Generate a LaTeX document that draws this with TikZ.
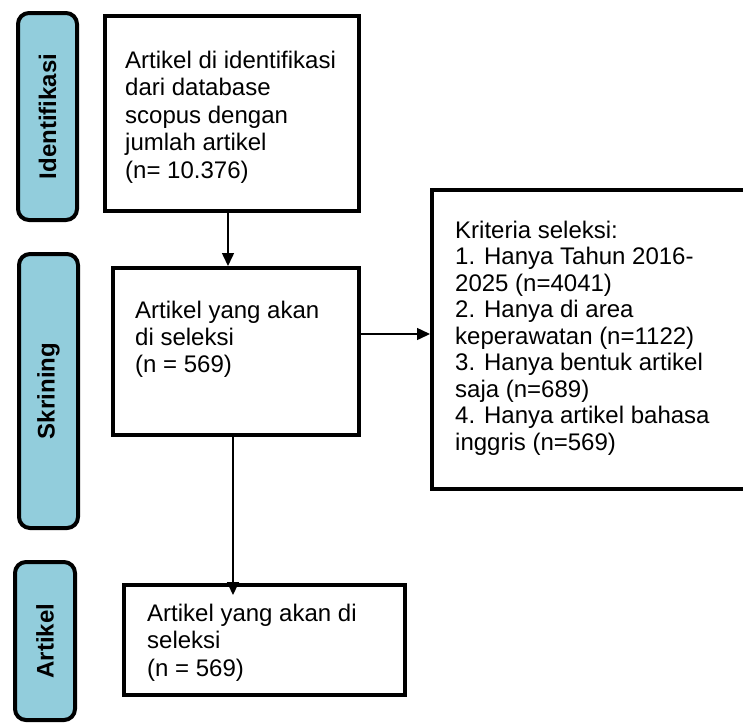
\documentclass[tikz,border=0pt]{standalone}
\usepackage{fontspec}
\setmainfont{Liberation Sans}
\usetikzlibrary{arrows.meta}
\definecolor{barblue}{HTML}{92CDDC}
\begin{document}
\begin{tikzpicture}[x=1pt,y=-1pt,
  bar/.style={draw=black, line width=4pt, fill=barblue, rounded corners=11pt, rectangle, inner sep=0pt},
  boxnode/.style={draw=black, line width=4pt, fill=white, rectangle, inner sep=0pt},
  barlabel/.style={rotate=90, font=\fontsize{24}{27}\selectfont\bfseries, inner sep=0pt},
  boxtext/.style={anchor=north west, inner sep=0pt, align=left},
  arr/.style={line width=1.5pt, -{Triangle[length=13pt,width=12pt]}}]
\useasboundingbox (0,0) rectangle (743,724);
\clip (0,0) rectangle (743,724);
% side bars
\node[bar, minimum width=59pt, minimum height=207pt] (idbar) at (47.5,116.5) {};
\node[barlabel] (idlab) at (idbar.center) {Identifikasi};
\node[bar, minimum width=59pt, minimum height=274pt] (skbar) at (48.5,391) {};
\node[barlabel] (sklab) at (skbar.center) {Skrining};
\node[bar, minimum width=60pt, minimum height=158pt] (arbar) at (45,641) {};
\node[barlabel] (arlab) at (arbar.center) {Artikel};
% boxes
\node[boxnode, minimum width=254pt, minimum height=195pt] (topbox) at (232,113.5) {};
\node[boxnode, minimum width=246pt, minimum height=167pt] (midbox) at (236,351.5) {};
\node[boxnode, minimum width=326pt, minimum height=299pt] (rightbox) at (595,339.5) {};
\node[boxnode, minimum width=281pt, minimum height=110pt] (botbox) at (264.5,640) {};
% texts
\node[boxtext, font=\fontsize{24}{27.5}\selectfont] (toptext) at (125,50.5)
  {Artikel di identifikasi\\dari database\\scopus dengan\\jumlah artikel\\(n= 10.376)};
\node[boxtext, font=\fontsize{24}{27}\selectfont] (midtext) at (135,300.5)
  {Artikel yang akan\\di seleksi\\(n = 569)};
\node[boxtext, font=\fontsize{24}{26.5}\selectfont] (righttext) at (455,220.5)
  {Kriteria seleksi:\\1. Hanya Tahun 2016-\\2025 (n=4041)\\2. Hanya di area\\keperawatan (n=1122)\\3. Hanya bentuk artikel\\saja (n=689)\\4. Hanya artikel bahasa\\inggris (n=569)};
\node[boxtext, font=\fontsize{24}{27.5}\selectfont] (bottext) at (147,603.5)
  {Artikel yang akan di\\seleksi\\(n = 569)};
% connectors
\draw[arr] ([xshift=-4pt]topbox.south) -- ([xshift=-4pt]topbox.south |- midbox.north);
\draw[arr] ([yshift=17.5pt]midbox.east) -- ([yshift=17.5pt]midbox.east -| rightbox.west);
\draw[arr, shorten >=-12pt] ([xshift=-3pt]midbox.south) -- ([xshift=-3pt]midbox.south |- botbox.north);
\end{tikzpicture}
\end{document}
